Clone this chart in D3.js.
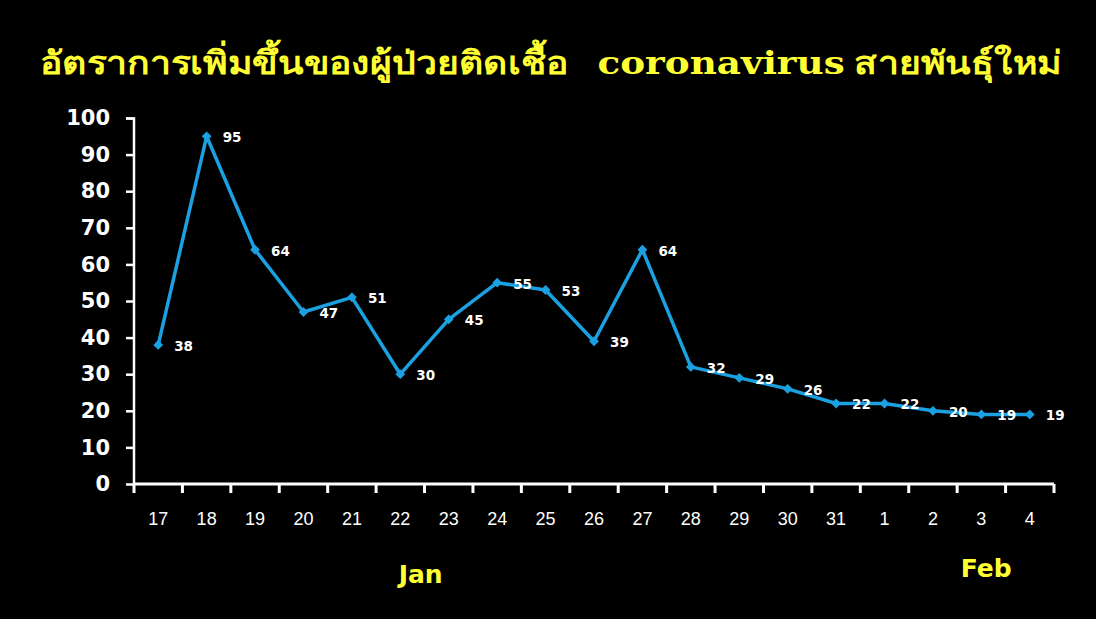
<!DOCTYPE html>
<html><head><meta charset="utf-8">
<script src="https://cdn.jsdelivr.net/npm/d3@7"></script>
<style>html,body{margin:0;padding:0;background:#000;}svg{display:block;}</style>
</head><body>
<svg id="c" width="1096" height="619"></svg>
<script>
const categories = ["17","18","19","20","21","22","23","24","25","26","27","28","29","30","31","1","2","3","4"];
const values = [38,95,64,47,51,30,45,55,53,39,64,32,29,26,22,22,20,19,19];
const yTicks = [0,10,20,30,40,50,60,70,80,90,100];
const titleParts = [
  {text:"อัตราการเพิ่มขึ้นของผู้ป่วยติดเชื้อ\u00a0\u00a0\u00a0", font:"'Noto Sans', 'DejaVu Sans', sans-serif"},
  {text:"coronavirus", font:"'DejaVu Serif', 'Liberation Serif', serif"},
  {text:" สายพันธุ์ใหม่", font:"'Noto Sans', 'DejaVu Sans', sans-serif"}
];
const monthLabels = [{text:"Jan", at:"22", frac:0.92},{text:"Feb", at:"3", frac:0.6}];

const svg = d3.select("#c");
svg.append("rect").attr("width",1096).attr("height",619).attr("fill","#000");

const x = d3.scaleBand().domain(categories).range([134,1054]);
const y = d3.scaleLinear().domain([0,100]).range([484,118]);

// title
const title = svg.append("text").attr("x",40).attr("y",74)
  .attr("textLength",1022).attr("lengthAdjust","spacingAndGlyphs")
  .attr("fill","#FFFF33").attr("font-weight","bold").attr("font-size",32)
  .style("white-space","pre");
title.selectAll("tspan").data(titleParts).enter().append("tspan")
  .attr("font-family",d=>d.font).text(d=>d.text);

// y axis
const yAxis = svg.append("g").attr("transform","translate(134,0)")
  .call(d3.axisLeft(y).tickValues(yTicks).tickSize(8).tickPadding(16));
yAxis.selectAll("path,line").attr("stroke","#fff").attr("stroke-width",2.5);
yAxis.select(".domain").attr("d","M-8,118.5H0V484.5");
yAxis.selectAll("text").attr("fill","#fff").attr("font-family","'DejaVu Sans', Verdana, sans-serif")
  .attr("font-weight","bold").attr("font-size",21);

// x axis
const xAxis = svg.append("g").attr("transform","translate(0,484)")
  .call(d3.axisBottom(x).tickSize(0).tickPadding(28));
xAxis.select(".domain").attr("stroke","#fff").attr("stroke-width",3).attr("d","M134,0H1054");
xAxis.selectAll("text").attr("fill","#fff").attr("font-family","'Liberation Sans', Arial, sans-serif")
  .attr("font-size",18);
const bounds = categories.map(c => x(c)).concat([x.range()[1]]);
xAxis.selectAll(".bt").data(bounds).enter().append("line").attr("class","bt")
  .attr("x1",d=>d).attr("x2",d=>d).attr("y1",0).attr("y2",9)
  .attr("stroke","#fff").attr("stroke-width",3);

// line
const cx = c => x(c) + x.bandwidth()/2;
const line = d3.line().x((d,i)=>cx(categories[i])).y(d=>y(d));
svg.append("path").datum(values).attr("d",line).attr("fill","none")
  .attr("stroke","#1BA1E2").attr("stroke-width",3.5).attr("stroke-linejoin","round");

svg.selectAll(".m").data(values).enter().append("path").attr("class","m")
  .attr("transform",(d,i)=>`translate(${cx(categories[i])},${y(d)}) rotate(45)`)
  .attr("d",d3.symbol().type(d3.symbolSquare).size(48)).attr("fill","#1BA1E2");

svg.selectAll(".lbl").data(values).enter().append("text").attr("class","lbl")
  .attr("x",(d,i)=>cx(categories[i])+16).attr("y",d=>y(d)+6)
  .attr("fill","#fff").attr("font-family","'DejaVu Sans', Verdana, sans-serif")
  .attr("font-weight","bold").attr("font-size",13.5).text(d=>d);

// month labels
svg.selectAll(".mon").data(monthLabels).enter().append("text").attr("class","mon")
  .attr("x",d=>x(d.at)+x.bandwidth()*d.frac).attr("y",(d,i)=>i===0?583:577).attr("text-anchor","middle")
  .attr("fill","#FFFF33").attr("font-family","'DejaVu Sans', Verdana, sans-serif")
  .attr("font-weight","bold").attr("font-size",25).text(d=>d.text);
</script>
</body></html>
